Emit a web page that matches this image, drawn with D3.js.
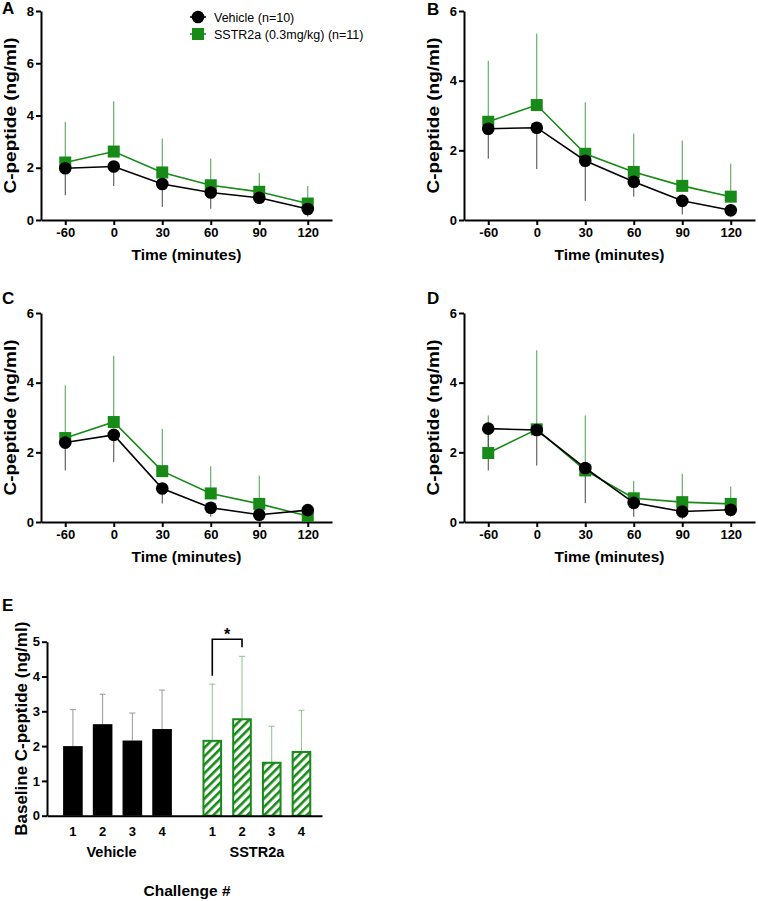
<!DOCTYPE html>
<html>
<head>
<meta charset="utf-8">
<script src="https://cdn.jsdelivr.net/npm/d3@7"></script>
<style>
  body { margin: 0; background: #fff; }
  svg { font-family: "Liberation Sans", Arial, sans-serif; font-weight: bold; }
</style>
</head>
<body>
<svg id="chart" width="758" height="901"></svg>
<script>
// time points shared by panels A-D
var timePoints = ['-60', '0', '30', '60', '90', '120'];

// panel A
var vehicleA = [1.98, 2.05, 1.38, 1.05, 0.85, 0.42];
var vehicleASd = [1.03, 0.75, 0.88, 0.62, 0.23, 0.29];
var sstrA = [2.2, 2.62, 1.82, 1.33, 1.08, 0.63];
var sstrASd = [1.56, 1.93, 1.3, 1.02, 0.72, 0.67];

// panel B
var vehicleB = [2.62, 2.65, 1.7, 1.1, 0.55, 0.28];
var vehicleBSd = [0.86, 1.19, 1.15, 0.43, 0.39, 0.2];
var sstrB = [2.82, 3.3, 1.9, 1.38, 0.98, 0.67];
var sstrBSd = [1.75, 2.05, 1.48, 1.1, 1.3, 0.95];

// panel C
var vehicleC = [2.28, 2.5, 0.96, 0.41, 0.21, 0.34];
var vehicleCSd = [0.8, 0.78, 0.43, 0.26, 0.11, 0.14];
var sstrC = [2.41, 2.87, 1.46, 0.82, 0.52, 0.17];
var sstrCSd = [1.51, 1.9, 1.21, 0.78, 0.81, 0.13];

// panel D
var vehicleD = [2.68, 2.64, 1.55, 0.55, 0.3, 0.35];
var vehicleDSd = [1.2, 1.02, 1.01, 0.4, 0.22, 0.2];
var sstrD = [1.98, 2.66, 1.48, 0.68, 0.57, 0.52];
var sstrDSd = [1.08, 2.27, 1.58, 0.5, 0.81, 0.5];

// panel E
var groups = ['Vehicle', 'SSTR2a'];
var challenges = ['1', '2', '3', '4'];
var baselineVehicle = [2.0, 2.63, 2.16, 2.49];
var baselineVehicleSd = [1.05, 0.86, 0.79, 1.12];
var baselineSstr = [2.18, 2.8, 1.55, 1.86];
var baselineSstrSd = [1.6, 1.78, 1.02, 1.17];

var legendLabels = ['Vehicle (n=10)', 'SSTR2a (0.3mg/kg) (n=11)'];

var green = '#178a17';
var greenErr = '#4a9e4a';
var blackErr = '#444';

var svg = d3.select('#chart');

var styleAxis = function (g) {
  g.selectAll('path.domain').attr('stroke', '#000').attr('stroke-width', 2);
  g.selectAll('.tick line').attr('stroke', '#000').attr('stroke-width', 2);
  g.selectAll('.tick text').attr('fill', '#000').attr('font-size', 13).attr('font-weight', 'bold')
      .attr('font-family', '"Liberation Sans", Arial, sans-serif');
};

var drawTimePanel = function (cfg) {
  var x = d3.scalePoint().domain(timePoints).range([cfg.left, cfg.left + 291]).padding(0.5);
  var y = d3.scaleLinear().domain([0, cfg.yMax]).range([cfg.bottom, cfg.bottom - 209]);
  var g = svg.append('g');

  g.append('g')
      .attr('transform', 'translate(0,' + cfg.bottom + ')')
      .call(d3.axisBottom(x).tickSize(5).tickSizeOuter(0))
      .call(styleAxis);

  g.append('g')
      .attr('transform', 'translate(' + cfg.left + ',0)')
      .call(d3.axisLeft(y).tickValues(d3.range(0, cfg.yMax + 1, 2)).tickFormat(d3.format('d'))
          .tickSize(5).tickSizeOuter(0).tickPadding(2))
      .call(styleAxis);

  g.append('text')
      .attr('x', (cfg.left + cfg.left + 291) / 2)
      .attr('y', cfg.bottom + 40)
      .attr('text-anchor', 'middle')
      .attr('font-size', 15.5)
      .text('Time (minutes)');

  g.append('text')
      .attr('transform', 'translate(' + (cfg.left - 25.5) + ',' + (cfg.bottom - 104.5) + ') rotate(-90)')
      .attr('text-anchor', 'middle')
      .attr('font-size', 17)
      .attr('textLength', 156)
      .attr('lengthAdjust', 'spacingAndGlyphs')
      .text('C-peptide (ng/ml)');

  g.append('text')
      .attr('x', cfg.labelX)
      .attr('y', cfg.labelY)
      .attr('font-size', 17)
      .text(cfg.label);

  var sstr = timePoints.map(function (t, i) { return {t: t, v: cfg.sstr[i], sd: cfg.sstrSd[i]}; });
  var veh = timePoints.map(function (t, i) { return {t: t, v: cfg.vehicle[i], sd: cfg.vehicleSd[i]}; });

  // error bars: SSTR2a upward, vehicle downward
  g.selectAll('line.err-s').data(sstr).enter().append('line')
      .attr('class', 'err-s')
      .attr('x1', function (d) { return x(d.t); })
      .attr('x2', function (d) { return x(d.t); })
      .attr('y1', function (d) { return y(d.v); })
      .attr('y2', function (d) { return y(d.v + d.sd); })
      .attr('stroke', greenErr)
      .attr('stroke-width', 1);

  g.selectAll('line.err-v').data(veh).enter().append('line')
      .attr('class', 'err-v')
      .attr('x1', function (d) { return x(d.t); })
      .attr('x2', function (d) { return x(d.t); })
      .attr('y1', function (d) { return y(d.v); })
      .attr('y2', function (d) { return y(d.v - d.sd); })
      .attr('stroke', blackErr)
      .attr('stroke-width', 1);

  var line = d3.line()
      .x(function (d) { return x(d.t); })
      .y(function (d) { return y(d.v); });

  g.append('path').datum(sstr)
      .attr('d', line)
      .attr('fill', 'none')
      .attr('stroke', green)
      .attr('stroke-width', 1.6);

  g.selectAll('rect.mk').data(sstr).enter().append('rect')
      .attr('class', 'mk')
      .attr('x', function (d) { return x(d.t) - 6; })
      .attr('y', function (d) { return y(d.v) - 6; })
      .attr('width', 12)
      .attr('height', 12)
      .attr('fill', green);

  g.append('path').datum(veh)
      .attr('d', line)
      .attr('fill', 'none')
      .attr('stroke', '#000')
      .attr('stroke-width', 1.6);

  g.selectAll('circle.mk').data(veh).enter().append('circle')
      .attr('class', 'mk')
      .attr('cx', function (d) { return x(d.t); })
      .attr('cy', function (d) { return y(d.v); })
      .attr('r', 6.3)
      .attr('fill', '#000');

  return g;
};

var panelA = drawTimePanel({label: 'A', labelX: 2, labelY: 14, left: 41, bottom: 220, yMax: 8,
  vehicle: vehicleA, vehicleSd: vehicleASd, sstr: sstrA, sstrSd: sstrASd});
drawTimePanel({label: 'B', labelX: 427, labelY: 15, left: 464, bottom: 220, yMax: 6,
  vehicle: vehicleB, vehicleSd: vehicleBSd, sstr: sstrB, sstrSd: sstrBSd});
drawTimePanel({label: 'C', labelX: 2, labelY: 304, left: 41, bottom: 522, yMax: 6,
  vehicle: vehicleC, vehicleSd: vehicleCSd, sstr: sstrC, sstrSd: sstrCSd});
drawTimePanel({label: 'D', labelX: 427, labelY: 304, left: 464, bottom: 522, yMax: 6,
  vehicle: vehicleD, vehicleSd: vehicleDSd, sstr: sstrD, sstrSd: sstrDSd});

// legend (panel A)
var legend = panelA.append('g').attr('transform', 'translate(198,17)');
legend.selectAll('g.item').data(legendLabels).enter().append('g')
    .attr('class', 'item')
    .attr('transform', function (d, i) { return 'translate(0,' + (i * 17) + ')'; })
    .each(function (d, i) {
      var it = d3.select(this);
      var c = i === 0 ? '#000' : green;
      it.append('line').attr('x1', -8).attr('x2', 8).attr('stroke', c).attr('stroke-width', 1.6);
      if (i === 0) {
        it.append('circle').attr('r', 6.3).attr('fill', c);
      } else {
        it.append('rect').attr('x', -6).attr('y', -6).attr('width', 12).attr('height', 12).attr('fill', c);
      }
      it.append('text').attr('x', 16).attr('y', 4.5)
          .attr('font-size', 12.5).attr('font-weight', 'normal').text(d);
    });

// panel E
var eLeft = 47, eRight = 322, eBottom = 815.7;
var yE = d3.scaleLinear().domain([0, 5]).range([eBottom, eBottom - 174]);
var x0 = d3.scaleBand().domain(groups).range([eLeft, eRight])
    .paddingInner(0.147).paddingOuter(0.06).align(0.66);
var x1 = d3.scaleBand().domain(challenges).range([0, x0.bandwidth()])
    .paddingInner(0.34).paddingOuter(0.17);

var defs = svg.append('defs');
var pat = defs.append('pattern')
    .attr('id', 'hatch')
    .attr('patternUnits', 'userSpaceOnUse')
    .attr('width', 6)
    .attr('height', 6)
    .attr('patternTransform', 'rotate(45)');
pat.append('rect').attr('width', 6).attr('height', 6).attr('fill', '#fff');
pat.append('rect').attr('width', 2.6).attr('height', 6).attr('fill', green);

var eG = svg.append('g');

eG.append('text').attr('x', 2).attr('y', 611).attr('font-size', 17).text('E');

var barData = [];
groups.forEach(function (grp) {
  var vals = grp === 'Vehicle' ? baselineVehicle : baselineSstr;
  var sds = grp === 'Vehicle' ? baselineVehicleSd : baselineSstrSd;
  challenges.forEach(function (c, i) {
    barData.push({group: grp, ch: c, v: vals[i], sd: sds[i]});
  });
});

var bx = function (d) { return x0(d.group) + x1(d.ch); };
var bw = x1.bandwidth();

// error bars with caps
var errG = eG.selectAll('g.err').data(barData).enter().append('g').attr('class', 'err')
    .attr('stroke', function (d) { return d.group === 'Vehicle' ? '#999' : '#8cc48c'; })
    .attr('stroke-width', 1);
errG.append('line')
    .attr('x1', function (d) { return bx(d) + bw / 2; })
    .attr('x2', function (d) { return bx(d) + bw / 2; })
    .attr('y1', function (d) { return yE(d.v); })
    .attr('y2', function (d) { return yE(d.v + d.sd); });
errG.append('line')
    .attr('x1', function (d) { return bx(d) + bw / 2 - 3; })
    .attr('x2', function (d) { return bx(d) + bw / 2 + 3; })
    .attr('y1', function (d) { return yE(d.v + d.sd); })
    .attr('y2', function (d) { return yE(d.v + d.sd); });

eG.selectAll('rect.bar').data(barData).enter().append('rect')
    .attr('class', 'bar')
    .attr('x', function (d) { return d.group === 'Vehicle' ? bx(d) : bx(d) + 1; })
    .attr('y', function (d) { return d.group === 'Vehicle' ? yE(d.v) : yE(d.v) + 1; })
    .attr('width', function (d) { return d.group === 'Vehicle' ? bw : bw - 2; })
    .attr('height', function (d) { return d.group === 'Vehicle' ? eBottom - yE(d.v) : eBottom - yE(d.v) - 1; })
    .attr('fill', function (d) { return d.group === 'Vehicle' ? '#000' : 'url(#hatch)'; })
    .attr('stroke', function (d) { return d.group === 'Vehicle' ? 'none' : green; })
    .attr('stroke-width', 2);

// axes
eG.append('g')
    .attr('transform', 'translate(' + eLeft + ',0)')
    .call(d3.axisLeft(yE).ticks(5).tickSize(5).tickSizeOuter(0).tickPadding(2))
    .call(styleAxis);

var xAxisE = eG.append('g')
    .attr('transform', 'translate(0,' + eBottom + ')')
    .call(d3.axisBottom(x0).tickSize(0).tickSizeOuter(0).tickPadding(31))
    .call(styleAxis);
xAxisE.selectAll('.tick text').attr('font-size', 14.5).attr('dx', function (d) { return d === 'Vehicle' ? -6 : 0; });

groups.forEach(function (grp) {
  eG.append('g')
      .attr('transform', 'translate(' + x0(grp) + ',' + eBottom + ')')
      .call(d3.axisBottom(x1).tickSize(0).tickPadding(11))
      .call(styleAxis)
      .call(function (g) { g.select('path.domain').remove(); });
});

eG.append('text')
    .attr('x', 187)
    .attr('y', 896)
    .attr('text-anchor', 'middle')
    .attr('font-size', 15.5)
    .text('Challenge #');

eG.append('text')
    .attr('transform', 'translate(' + (eLeft - 20) + ',' + ((yE(0) + yE(5)) / 2) + ') rotate(-90)')
    .attr('text-anchor', 'middle')
    .attr('font-size', 17)
    .attr('textLength', 214)
    .attr('lengthAdjust', 'spacingAndGlyphs')
    .text('Baseline C-peptide (ng/ml)');

// significance bracket between SSTR2a challenge 1 and 2
var sig = {group: 'SSTR2a', from: '1', to: '2', top: 5.07, leftEnd: 4.02, rightEnd: 4.84, text: '*'};
var sx1 = x0(sig.group) + x1(sig.from) + bw / 2;
var sx2 = x0(sig.group) + x1(sig.to) + bw / 2;
eG.append('path')
    .attr('d', 'M' + sx1 + ',' + yE(sig.leftEnd) + 'V' + yE(sig.top) + 'H' + sx2 + 'V' + yE(sig.rightEnd))
    .attr('fill', 'none')
    .attr('stroke', '#000')
    .attr('stroke-width', 1.6);
eG.append('text')
    .attr('x', (sx1 + sx2) / 2)
    .attr('y', yE(sig.top) + 0.5)
    .attr('text-anchor', 'middle')
    .attr('font-size', 16)
    .text(sig.text);
</script>
</body>
</html>
